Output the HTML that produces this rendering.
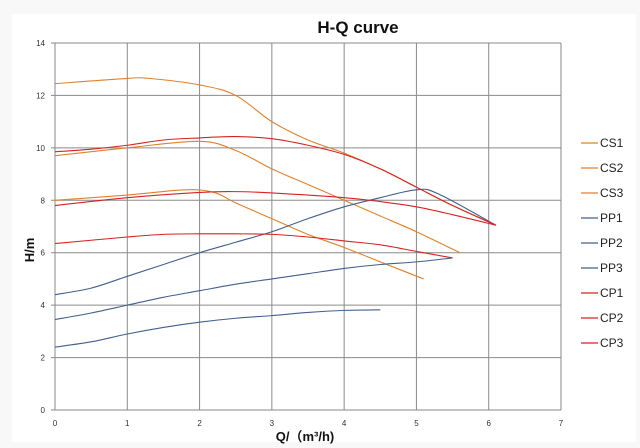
<!DOCTYPE html>
<html><head><meta charset="utf-8"><style>
html,body{margin:0;padding:0;background:#f8f8f8;}
svg{display:block;font-family:"Liberation Sans","Noto Sans CJK SC",sans-serif;}
</style></head><body>
<svg id="chart" width="640" height="448" viewBox="0 0 640 448" xmlns="http://www.w3.org/2000/svg">
<rect x="12" y="14" width="624" height="428" fill="#ffffff"/>
<text x="358" y="33" text-anchor="middle" font-size="17" font-weight="bold" fill="#111">H-Q  curve</text>
<g id="grid"></g>
<g id="series"></g>
<g id="legend"></g>
<text transform="translate(34,250) rotate(-90)" text-anchor="middle" font-size="13" font-weight="bold" fill="#111">H/m</text>
<text x="305" y="441" text-anchor="middle" font-size="13" font-weight="bold" fill="#111">Q/（m³/h)</text>
</svg>
<script>
const xTicks=[0,1,2,3,4,5,6,7];
const yTicks=[0,2,4,6,8,10,12,14];
const seriesNames=["CS1","CS2","CS3","PP1","PP2","PP3","CP1","CP2","CP3"];
const seriesColors=["#e0802c","#e0802c","#e0802c","#41608c","#41608c","#41608c","#d82222","#d82222","#d82222"];
const cs1=[[0,12.45],[1,12.65],[1.3,12.65],[2,12.4],[2.5,12.0],[3,11.0],[3.5,10.3],[4,9.8],[4.5,9.2],[5,8.5],[5.5,7.8],[6.1,7.05]];
const cs2=[[0,9.7],[1,10.0],[2,10.25],[2.5,9.9],[3,9.2],[3.5,8.6],[4,8.0],[4.5,7.4],[5,6.8],[5.6,6.0]];
const cs3=[[0,8.0],[1,8.2],[1.8,8.4],[2.2,8.3],[2.5,7.9],[3,7.3],[3.5,6.7],[4,6.2],[4.5,5.65],[5.1,5.0]];
const pp1=[[0,4.4],[0.5,4.65],[1,5.1],[1.5,5.55],[2,6.0],[2.5,6.4],[3,6.8],[3.5,7.3],[4,7.75],[4.5,8.1],[5,8.4],[5.3,8.25],[6.1,7.05]];
const pp2=[[0,3.45],[0.5,3.7],[1,4.0],[1.5,4.3],[2,4.55],[2.5,4.8],[3,5.0],[3.5,5.2],[4,5.4],[4.5,5.55],[5,5.65],[5.5,5.8]];
const pp3=[[0,2.4],[0.5,2.6],[1,2.9],[1.5,3.15],[2,3.35],[2.5,3.5],[3,3.6],[3.5,3.72],[4,3.8],[4.5,3.82]];
const cp1=[[0,9.85],[0.5,9.95],[1,10.1],[1.5,10.3],[2,10.38],[2.5,10.43],[3,10.35],[3.5,10.1],[4,9.75],[4.5,9.2],[5,8.5],[5.5,7.8],[6.1,7.05]];
const cp2=[[0,7.8],[1,8.1],[2,8.3],[2.5,8.33],[3,8.28],[4,8.1],[4.5,7.95],[5,7.75],[5.5,7.45],[6.1,7.05]];
const cp3=[[0,6.35],[1,6.6],[1.5,6.7],[2,6.72],[2.5,6.72],[3,6.7],[3.5,6.6],[4,6.45],[4.5,6.3],[5,6.05],[5.5,5.8]];
const allSeries=[cs1,cs2,cs3,pp1,pp2,pp3,cp1,cp2,cp3];

const X0=55,X1=561,Y0=410,Y1=43;
function xs(v){return X0+(v-0)/(7-0)*(X1-X0);}
function ys(v){return Y0-(v-0)/(14-0)*(Y0-Y1);}
const NS="http://www.w3.org/2000/svg";
const grid=document.getElementById('grid');
xTicks.forEach(t=>{
  const l=document.createElementNS(NS,'line');
  
  
  l.setAttribute('x1',xs(t));l.setAttribute('x2',xs(t));l.setAttribute('y1',ys(14));l.setAttribute('y2',ys(0));
  l.setAttribute('stroke','#8a8a8a');l.setAttribute('stroke-width','1');
  grid.appendChild(l);
  const tx=document.createElementNS(NS,'text');
  
  
  tx.setAttribute('x',xs(t));tx.setAttribute('y',ys(0)+16);tx.setAttribute('text-anchor','middle');
  tx.setAttribute('font-size','8');tx.setAttribute('fill','#333');tx.textContent=t;
  grid.appendChild(tx);
});
yTicks.forEach(t=>{
  const l=document.createElementNS(NS,'line');
  
  
  l.setAttribute('x1',xs(0)-4);l.setAttribute('x2',xs(7));l.setAttribute('y1',ys(t));l.setAttribute('y2',ys(t));
  l.setAttribute('stroke','#8a8a8a');l.setAttribute('stroke-width','1');
  grid.appendChild(l);
  const tx=document.createElementNS(NS,'text');
  
  
  tx.setAttribute('x',xs(0)-10);tx.setAttribute('y',ys(t)+3);tx.setAttribute('text-anchor','end');
  tx.setAttribute('font-size','8');tx.setAttribute('fill','#333');tx.textContent=t;
  grid.appendChild(tx);
});
function smooth(pts){
  const p=pts.map(d=>[xs(d[0]),ys(d[1])]);
  let s='M'+p[0][0]+','+p[0][1];
  for(let i=0;i<p.length-1;i++){
    const a=p[i-1]||p[i],b=p[i],c=p[i+1],d=p[i+2]||c;
    const c1=[b[0]+(c[0]-a[0])/6,b[1]+(c[1]-a[1])/6];
    const c2=[c[0]-(d[0]-b[0])/6,c[1]-(d[1]-b[1])/6];
    s+=' C'+c1[0]+','+c1[1]+' '+c2[0]+','+c2[1]+' '+c[0]+','+c[1];
  }
  return s;
}
const sg=document.getElementById('series');
const lg=document.getElementById('legend');
allSeries.forEach((pts,i)=>{
  const p=document.createElementNS(NS,'path');
  
  
  p.setAttribute('d',smooth(pts));p.setAttribute('fill','none');
  p.setAttribute('stroke',seriesColors[i]);p.setAttribute('stroke-width','1.1');
  sg.appendChild(p);
  const y=143+i*25;
  const l=document.createElementNS(NS,'line');
  
  
  l.setAttribute('x1',581);l.setAttribute('x2',598);l.setAttribute('y1',y);l.setAttribute('y2',y);
  l.setAttribute('stroke',seriesColors[i]);l.setAttribute('stroke-width','1.3');
  lg.appendChild(l);
  const t=document.createElementNS(NS,'text');
  
  
  t.setAttribute('x',600);t.setAttribute('y',y+4);t.setAttribute('font-size','12');t.setAttribute('fill','#222');
  t.textContent=seriesNames[i];
  lg.appendChild(t);
});
</script>
</body></html>
